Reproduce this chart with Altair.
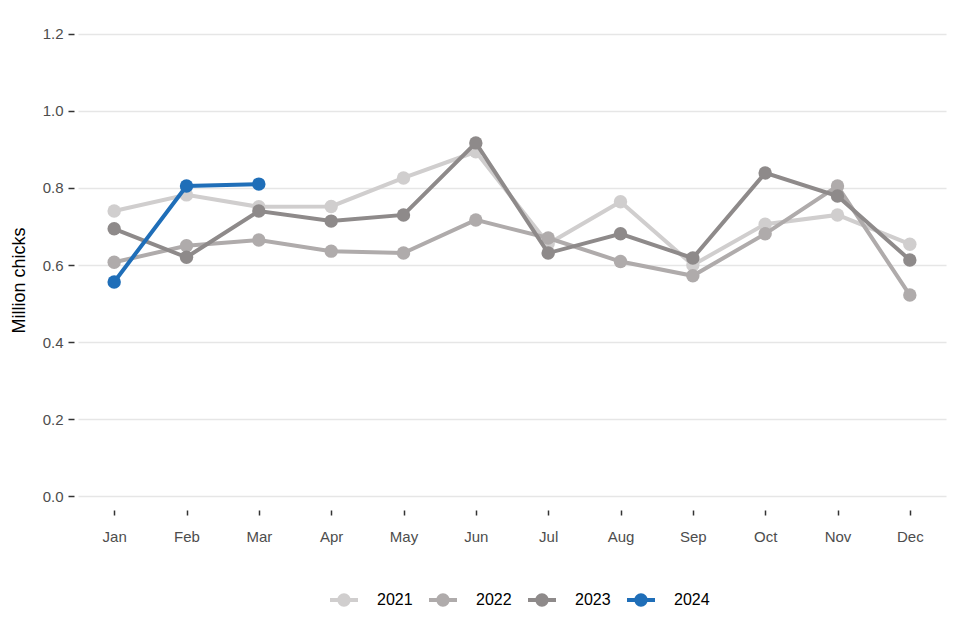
import altair as alt
import pandas as pd

months = ["Jan", "Feb", "Mar", "Apr", "May", "Jun", "Jul", "Aug", "Sep", "Oct", "Nov", "Dec"]
years = ["2021", "2022", "2023", "2024"]
v2021 = [0.740, 0.782, 0.751, 0.752, 0.826, 0.894, 0.655, 0.764, 0.600, 0.706, 0.730, 0.654]
v2022 = [0.607, 0.650, 0.665, 0.636, 0.631, 0.717, 0.670, 0.609, 0.572, 0.681, 0.805, 0.522]
v2023 = [0.694, 0.620, 0.740, 0.714, 0.730, 0.917, 0.631, 0.681, 0.618, 0.839, 0.779, 0.613]
v2024 = [0.556, 0.805, 0.810]
colors = ["#d0cece", "#afabab", "#8e8a8a", "#1f6eb8"]

series = {"2021": v2021, "2022": v2022, "2023": v2023, "2024": v2024}
rows = []
for y in years:
    for m, v in zip(months, series[y]):
        rows.append({"Year": y, "Month": m, "Value": v})
df = pd.DataFrame(rows)

color = alt.Color(
    "Year:N",
    scale=alt.Scale(domain=years, range=colors),
    legend=alt.Legend(
        title=None, orient="none", direction="horizontal",
        legendX=258, legendY=572,
        symbolType="M-2,-0.28H2V0.28H-2Z M0.95,0A0.95,0.95,0,1,1,-0.95,0A0.95,0.95,0,1,1,0.95,0Z",
        symbolSize=196, symbolStrokeWidth=0, symbolOpacity=1,
        labelFontSize=16, labelColor="#000000", labelOffset=25,
        columnPadding=16,
    ),
)

x = alt.X("Month:N", sort=months, scale=alt.Scale(type="point", padding=0.5),
          axis=alt.Axis(title=None, grid=False, domain=False, labelAngle=0,
                        tickSize=5, tickColor="#333333", tickWidth=1.5,
                        labelPadding=14, labelFontSize=15, labelColor="#4d4d4d"))
y = alt.Y("Value:Q", scale=alt.Scale(domain=[-0.036, 1.236], nice=False, zero=False),
          axis=alt.Axis(title="Million chicks", values=[0, 0.2, 0.4, 0.6, 0.8, 1.0, 1.2],
                        format=".1f", domain=False, tickSize=6, tickColor="#333333",
                        tickWidth=1.5, offset=4, labelPadding=5, labelFontSize=15,
                        labelColor="#4d4d4d", titleFontSize=18, titleFontWeight="normal",
                        titleColor="#000000", titlePadding=14, titleY=260,
                        gridColor="#e6e6e6", gridWidth=1.5))

layers = []
for yr in years:
    layers.append(
        alt.Chart(df).transform_filter(alt.datum.Year == yr)
        .mark_line(strokeWidth=4, point=alt.OverlayMarkDef(filled=True, size=180, opacity=1))
        .encode(x=x, y=y, color=color)
    )

chart = alt.layer(*layers).properties(
    width=868, height=490,
    autosize=alt.AutoSizeParams(type="none"),
    padding={"left": 70, "top": 12, "right": 6, "bottom": 110},
).configure(font="Liberation Sans").configure_view(stroke=None)

chart.save("out.html", embed_options={"renderer": "svg", "actions": False})
